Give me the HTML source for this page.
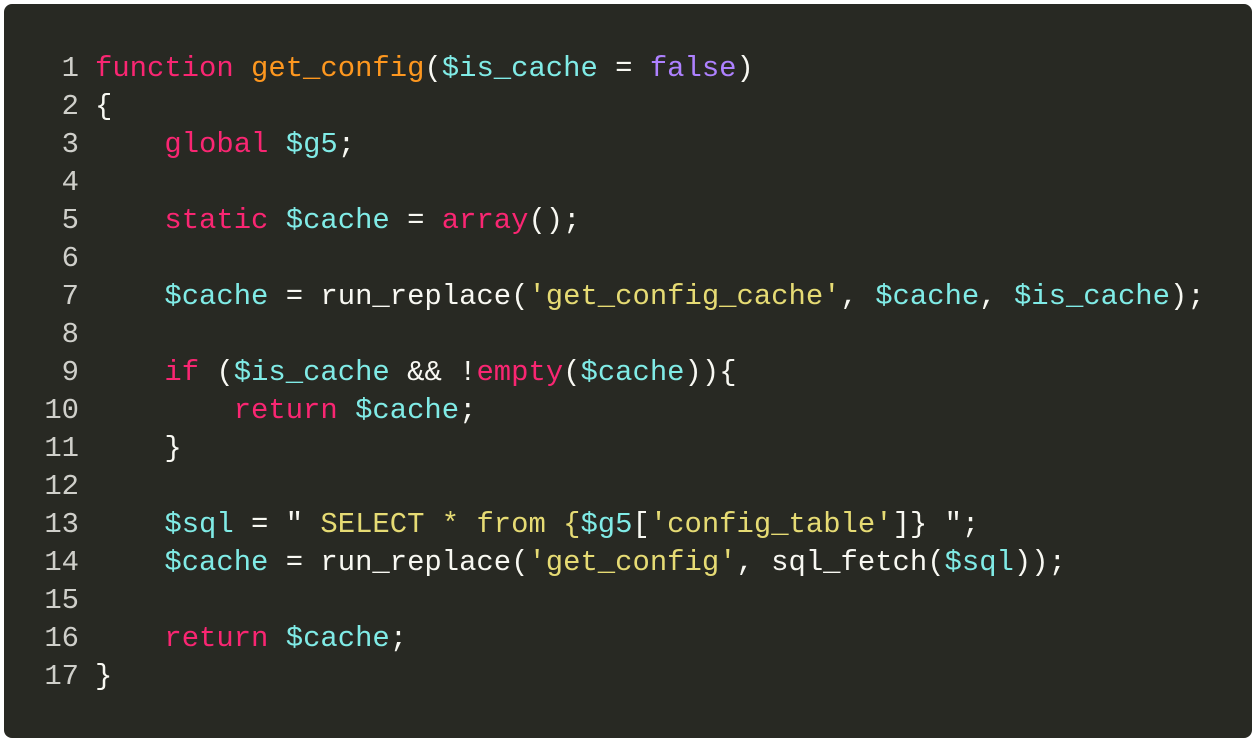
<!DOCTYPE html>
<html><head><meta charset="utf-8"><style>
html,body{margin:0;padding:0;background:#fff;width:1256px;height:742px;overflow:hidden}
.box{position:absolute;left:4px;top:4px;width:1248px;height:734px;background:#282923;border-radius:8px}
.l{position:absolute;left:0;height:38px;line-height:38px;font-family:"Liberation Mono","DejaVu Sans Mono",monospace;font-size:28.9px;white-space:pre;color:#f8f8f2}
.n{position:absolute;left:40px;width:35px;text-align:right;color:#cfcfca}
.c{position:absolute;left:91px}
.k{color:#f92672}.f{color:#fd971f}.v{color:#80ebe6}.p{color:#ae81ff}.s{color:#e6db74}
</style></head><body><div class="box">
<div class="l" style="top:46px"><span class="n">1</span><span class="c"><span class="k">function</span> <span class="f">get_config</span>(<span class="v">$is_cache</span> = <span class="p">false</span>)</span></div>
<div class="l" style="top:84px"><span class="n">2</span><span class="c">{</span></div>
<div class="l" style="top:122px"><span class="n">3</span><span class="c">    <span class="k">global</span> <span class="v">$g5</span>;</span></div>
<div class="l" style="top:160px"><span class="n">4</span></div>
<div class="l" style="top:198px"><span class="n">5</span><span class="c">    <span class="k">static</span> <span class="v">$cache</span> = <span class="k">array</span>();</span></div>
<div class="l" style="top:236px"><span class="n">6</span></div>
<div class="l" style="top:274px"><span class="n">7</span><span class="c">    <span class="v">$cache</span> = run_replace(<span class="s">'get_config_cache'</span>, <span class="v">$cache</span>, <span class="v">$is_cache</span>);</span></div>
<div class="l" style="top:312px"><span class="n">8</span></div>
<div class="l" style="top:350px"><span class="n">9</span><span class="c">    <span class="k">if</span> (<span class="v">$is_cache</span> &amp;&amp; !<span class="k">empty</span>(<span class="v">$cache</span>)){</span></div>
<div class="l" style="top:388px"><span class="n">10</span><span class="c">        <span class="k">return</span> <span class="v">$cache</span>;</span></div>
<div class="l" style="top:426px"><span class="n">11</span><span class="c">    }</span></div>
<div class="l" style="top:464px"><span class="n">12</span></div>
<div class="l" style="top:502px"><span class="n">13</span><span class="c">    <span class="v">$sql</span> = " <span class="s">SELECT * from {</span><span class="v">$g5</span>[<span class="s">'config_table'</span>]} ";</span></div>
<div class="l" style="top:540px"><span class="n">14</span><span class="c">    <span class="v">$cache</span> = run_replace(<span class="s">'get_config'</span>, sql_fetch(<span class="v">$sql</span>));</span></div>
<div class="l" style="top:578px"><span class="n">15</span></div>
<div class="l" style="top:616px"><span class="n">16</span><span class="c">    <span class="k">return</span> <span class="v">$cache</span>;</span></div>
<div class="l" style="top:654px"><span class="n">17</span><span class="c">}</span></div>
</div></body></html>
